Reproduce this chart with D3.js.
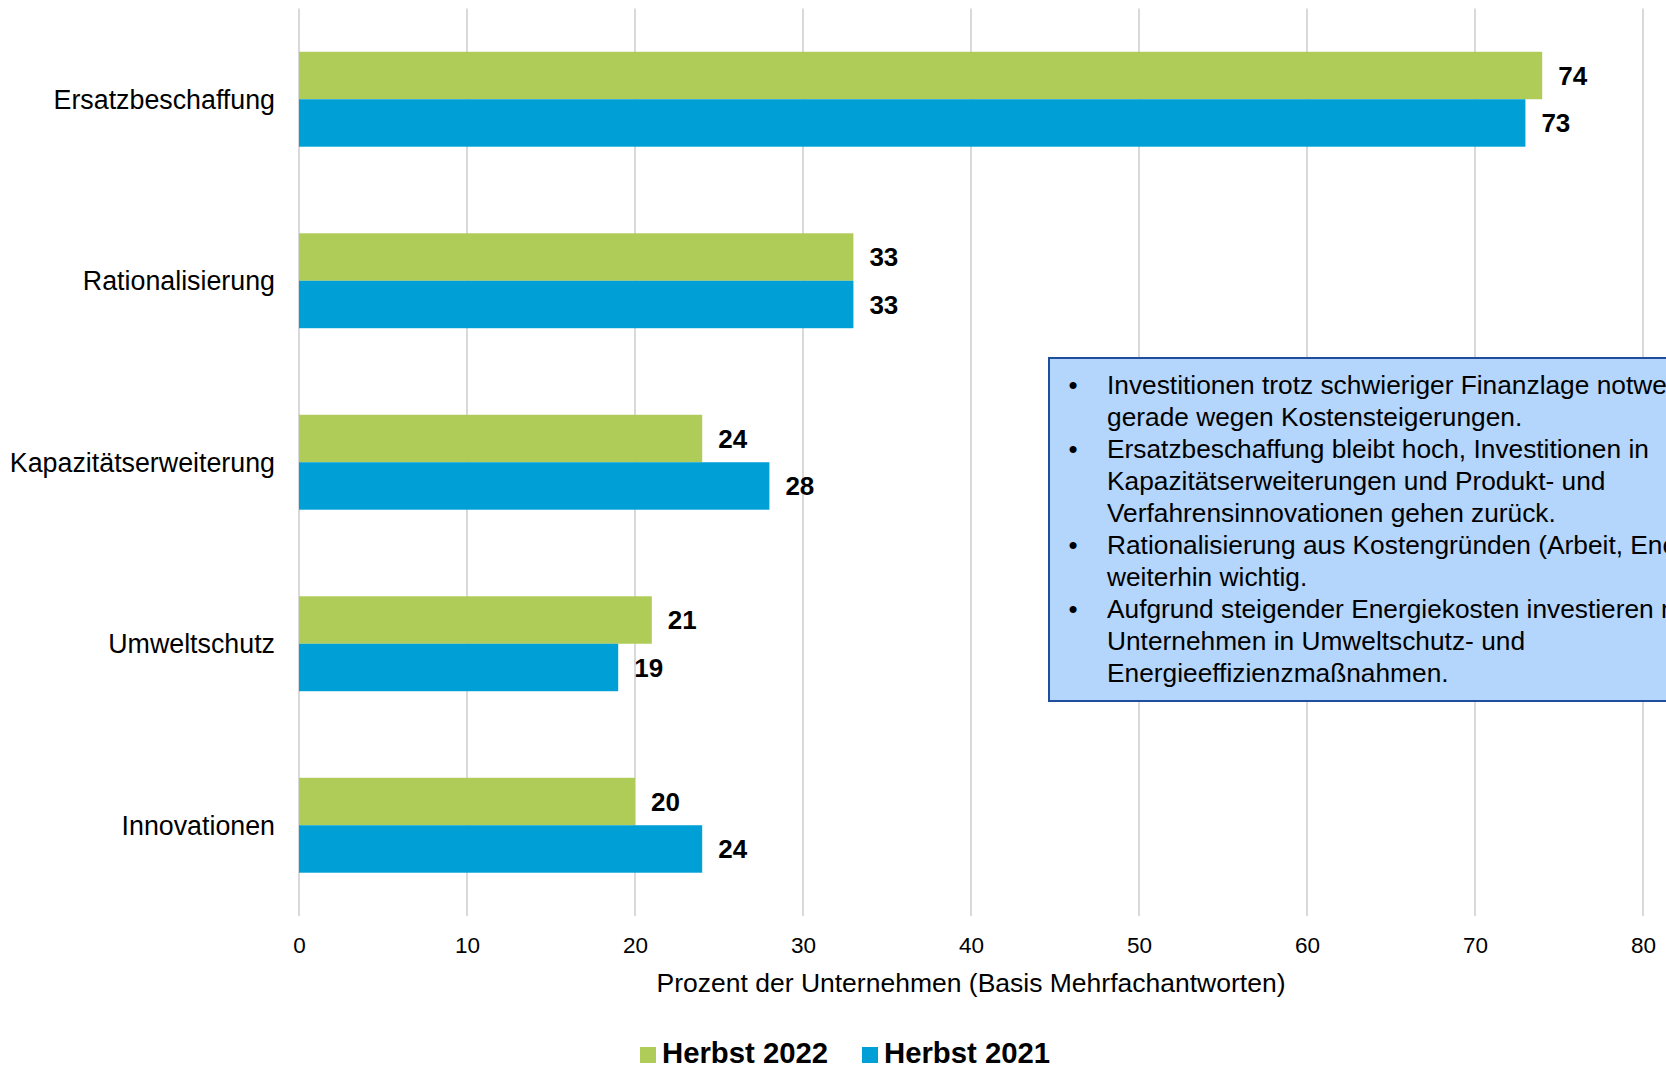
<!DOCTYPE html>
<html>
<head>
<meta charset="utf-8">
<script src="https://cdn.jsdelivr.net/npm/d3@7"></script>
<style>
    body { margin: 0; background: #fff; }
    svg { display: block; font-family: "Liberation Sans", Arial, sans-serif; }
</style>
</head>
<body>
<div id="chart"><svg></svg></div>
<script>
// Chart data
const categories = ["Ersatzbeschaffung", "Rationalisierung", "Kapazitätserweiterung", "Umweltschutz", "Innovationen"];
const seriesNames = ["Herbst 2022", "Herbst 2021"];
const herbst2022 = [74, 33, 24, 21, 20];
const herbst2021 = [73, 33, 28, 19, 24];
const xTicks = [0, 10, 20, 30, 40, 50, 60, 70, 80];
const axisTitle = "Prozent der Unternehmen (Basis Mehrfachantworten)";

// Notes in the text box (bullet -> wrapped lines)
const notes = [
    ["Investitionen trotz schwieriger Finanzlage notwendig,", "gerade wegen Kostensteigerungen."],
    ["Ersatzbeschaffung bleibt hoch, Investitionen in", "Kapazitätserweiterungen und Produkt- und", "Verfahrensinnovationen gehen zurück."],
    ["Rationalisierung aus Kostengründen (Arbeit, Energie)", "weiterhin wichtig."],
    ["Aufgrund steigender Energiekosten investieren mehr", "Unternehmen in Umweltschutz- und", "Energieeffizienzmaßnahmen."]
];

const colors = { "Herbst 2022": "#b0cc58", "Herbst 2021": "#009fd6" };

// Set up the chart dimensions
const W = 1666, H = 1067;
const margin = { top: 8.5, right: 23, bottom: 151, left: 299 };
const width = W - margin.left - margin.right;
const height = H - margin.top - margin.bottom;

const root = d3.select("#chart svg")
    .attr("width", W)
    .attr("height", H);

const svg = root.append("g")
    .attr("transform", `translate(${margin.left},${margin.top})`);

const x = d3.scaleLinear().domain([0, 80]).range([0, width]);
const y = d3.scaleBand().domain(categories).range([0, height])
    .paddingInner(0.477).paddingOuter(0.2385);
const ySub = d3.scaleBand().domain(seriesNames).range([0, y.bandwidth()]);

// Gridlines
svg.append("g")
    .selectAll("line")
    .data(xTicks)
    .enter()
    .append("line")
    .attr("x1", d => x(d))
    .attr("x2", d => x(d))
    .attr("y1", 0)
    .attr("y2", height)
    .attr("stroke", "#d9d9d9")
    .attr("stroke-width", 2);

// X axis labels
const xAxis = svg.append("g")
    .attr("transform", `translate(0,${height})`)
    .call(d3.axisBottom(x).tickValues(xTicks).tickSize(0).tickPadding(21));
xAxis.select(".domain").remove();
xAxis.selectAll("text")
    .attr("font-size", "22.5px")
    .attr("font-family", "Liberation Sans, Arial, sans-serif")
    .attr("fill", "#000");

// Axis title
svg.append("text")
    .attr("x", width / 2)
    .attr("y", height + 76)
    .attr("text-anchor", "middle")
    .attr("font-size", "26.5px")
    .attr("fill", "#000")
    .text(axisTitle);

// Bars
const rows = categories.map((c, i) => ({
    cat: c,
    values: [
        { name: seriesNames[0], value: herbst2022[i] },
        { name: seriesNames[1], value: herbst2021[i] }
    ]
}));

const groups = svg.selectAll(".cat")
    .data(rows)
    .enter()
    .append("g")
    .attr("class", "cat")
    .attr("transform", d => `translate(0,${y(d.cat)})`);

groups.selectAll("rect")
    .data(d => d.values)
    .enter()
    .append("rect")
    .attr("x", 0)
    .attr("y", d => ySub(d.name))
    .attr("width", d => x(d.value))
    .attr("height", ySub.bandwidth())
    .attr("fill", d => colors[d.name]);

// Value labels
groups.selectAll("text.val")
    .data(d => d.values)
    .enter()
    .append("text")
    .attr("class", "val")
    .attr("x", d => x(d.value) + 16)
    .attr("y", d => ySub(d.name) + ySub.bandwidth() / 2)
    .attr("dy", "0.36em")
    .attr("font-size", "26px")
    .attr("font-weight", "bold")
    .attr("fill", "#000")
    .text(d => d.value);

// Category labels
svg.append("g")
    .selectAll("text")
    .data(categories)
    .enter()
    .append("text")
    .attr("x", -24)
    .attr("y", d => y(d) + y.bandwidth() / 2)
    .attr("dy", "0.36em")
    .attr("text-anchor", "end")
    .attr("font-size", "26.8px")
    .attr("fill", "#000")
    .text(d => d);

// Text box (runs off the right edge like in the original)
const box = root.append("g").attr("transform", "translate(1049,358)");
box.append("rect")
    .attr("x", 0)
    .attr("y", 0)
    .attr("width", 760)
    .attr("height", 343)
    .attr("fill", "#b4d5fc")
    .attr("stroke", "#1f4f9c")
    .attr("stroke-width", 2);

let line = 0;
notes.forEach(bullet => {
    bullet.forEach((t, j) => {
        const by = 36 + line * 32;
        if (j === 0) {
            box.append("text")
                .attr("x", 24)
                .attr("y", by)
                .attr("text-anchor", "middle")
                .attr("font-size", "26px")
                .attr("fill", "#000")
                .text("•");
        }
        box.append("text")
            .attr("x", 58)
            .attr("y", by)
            .attr("font-size", "26.3px")
            .attr("fill", "#000")
            .text(t);
        line++;
    });
});

// Legend
const legend = root.append("g").attr("transform", "translate(640,1063)");
const legendX = [0, 222];
seriesNames.forEach((s, i) => {
    const g = legend.append("g").attr("transform", `translate(${legendX[i]},0)`);
    g.append("rect")
        .attr("x", 0)
        .attr("y", -16)
        .attr("width", 16)
        .attr("height", 16)
        .attr("fill", colors[s]);
    g.append("text")
        .attr("x", 22)
        .attr("y", 0)
        .attr("font-size", "29.3px")
        .attr("font-weight", "bold")
        .attr("fill", "#000")
        .text(s);
});
</script>
</body>
</html>
